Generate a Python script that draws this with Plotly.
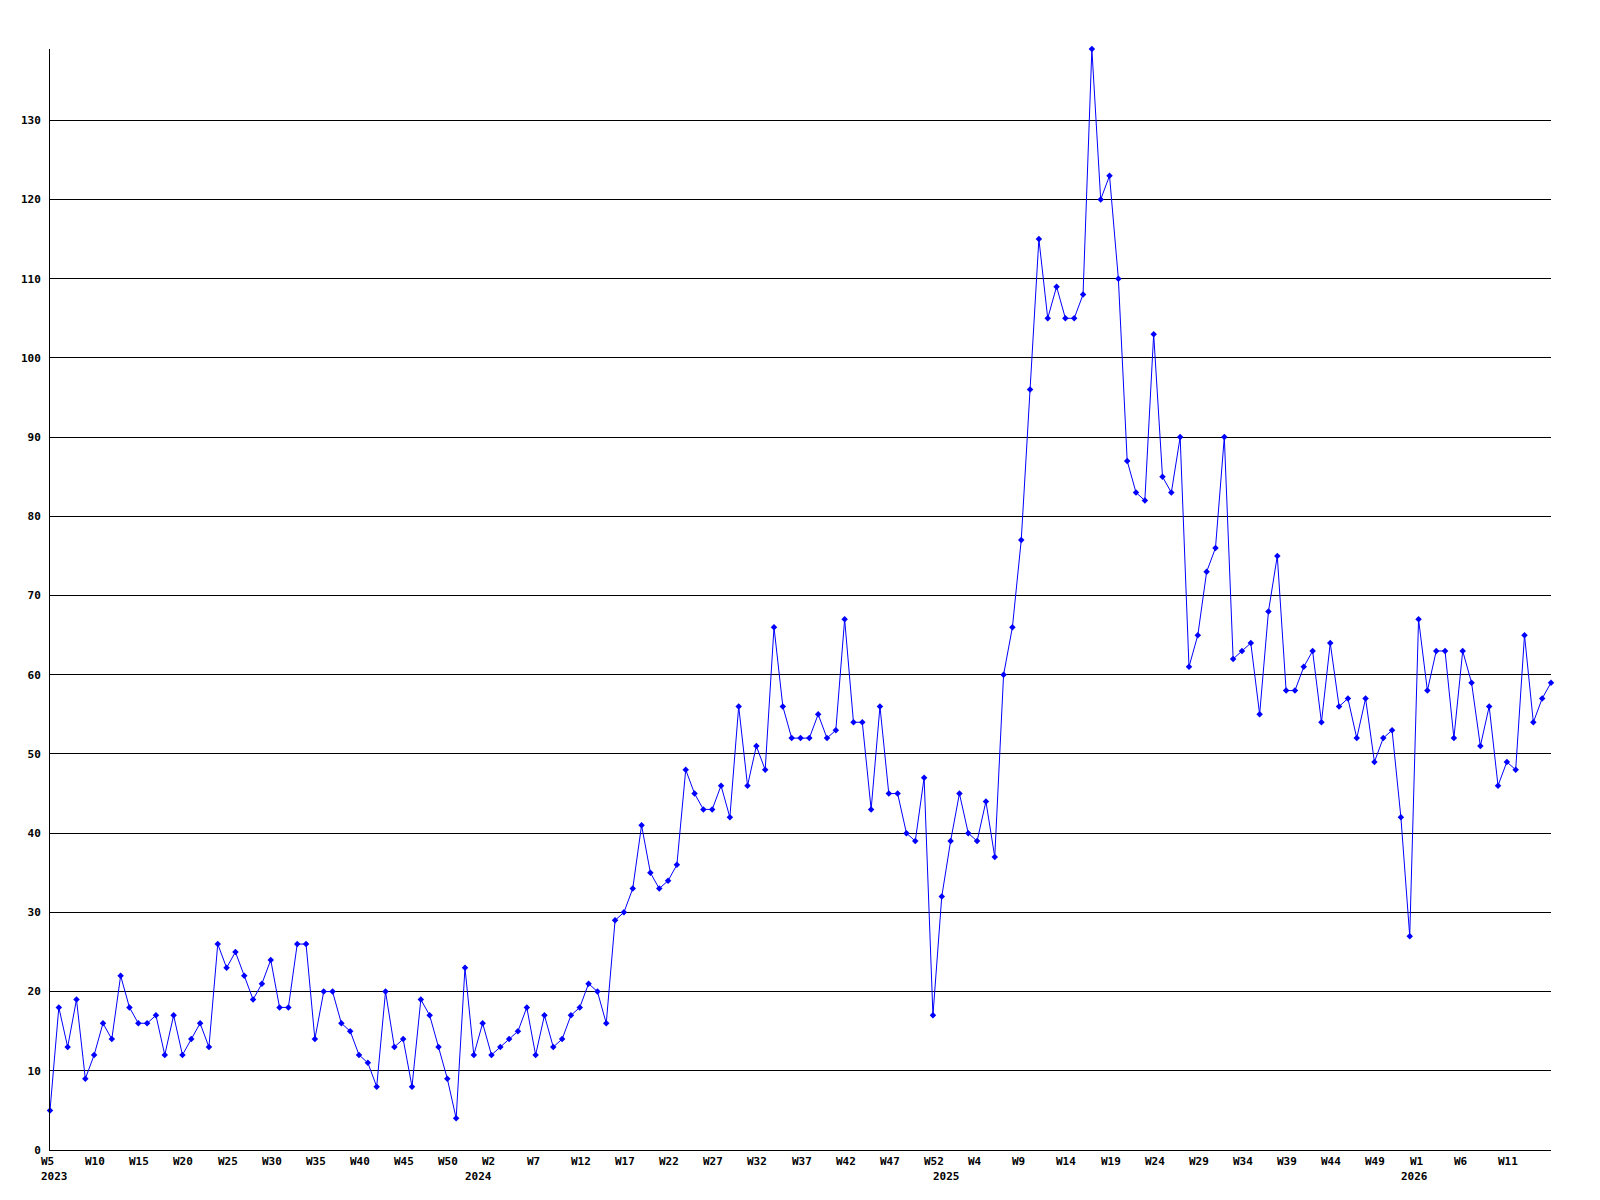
import plotly.graph_objects as go

# Weekly values, first point = 2023 W5
values = [
    5, 18, 13, 19, 9, 12, 16, 14, 22, 18,
    16, 16, 17, 12, 17, 12, 14, 16, 13, 26,
    23, 25, 22, 19, 21, 24, 18, 18, 26, 26,
    14, 20, 20, 16, 15, 12, 11, 8, 20, 13,
    14, 8, 19, 17, 13, 9, 4, 23, 12, 16,
    12, 13, 14, 15, 18, 12, 17, 13, 14, 17,
    18, 21, 20, 16, 29, 30, 33, 41, 35, 33,
    34, 36, 48, 45, 43, 43, 46, 42, 56, 46,
    51, 48, 66, 56, 52, 52, 52, 55, 52, 53,
    67, 54, 54, 43, 56, 45, 45, 40, 39, 47,
    17, 32, 39, 45, 40, 39, 44, 37, 60, 66,
    77, 96, 115, 105, 109, 105, 105, 108, 139, 120,
    123, 110, 87, 83, 82, 103, 85, 83, 90, 61,
    65, 73, 76, 90, 62, 63, 64, 55, 68, 75,
    58, 58, 61, 63, 54, 64, 56, 57, 52, 57,
    49, 52, 53, 42, 27, 67, 58, 63, 63, 52,
    63, 59, 51, 56, 46, 49, 48, 65, 54, 57,
    59,
]

# Week tick labels, one every 5 points starting at the first point
week_labels = [
    "W5", "W10", "W15", "W20", "W25", "W30", "W35", "W40", "W45", "W50",
    "W2", "W7", "W12", "W17", "W22", "W27", "W32", "W37", "W42", "W47",
    "W52", "W4", "W9", "W14", "W19", "W24", "W29", "W34", "W39", "W44",
    "W49", "W1", "W6", "W11",
]
week_label_step = 5

# Year labels and the point index where each year starts
year_labels = ["2023", "2024", "2025", "2026"]
year_label_points = [0, 48, 101, 154]

y_ticks = list(range(0, 140, 10))

FONT = dict(family="DejaVu Sans Mono", size=11, color="black", weight="bold")

x = list(range(len(values)))

fig = go.Figure()
fig.add_trace(go.Scatter(
    x=x, y=values, mode="lines+markers",
    line=dict(color="#0000ff", width=1),
    marker=dict(symbol="diamond", size=5, color="#0000ff"),
    cliponaxis=False, showlegend=False,
))

annotations = []
for i, lab in enumerate(week_labels):
    annotations.append(dict(
        x=i * week_label_step, y=0, xref="x", yref="paper",
        text=lab, showarrow=False, xanchor="left", yanchor="top",
        xshift=-11, yshift=-3, font=FONT,
    ))
for p, lab in zip(year_label_points, year_labels):
    annotations.append(dict(
        x=p, y=0, xref="x", yref="paper",
        text=lab, showarrow=False, xanchor="left", yanchor="top",
        xshift=-11, yshift=-18, font=FONT,
    ))

# page body has an 8px margin; the figure is sized so the plot area lands
# at the same pixels as the reference
fig.update_layout(
    width=1584, height=1184,
    margin=dict(l=42, r=41, t=41, b=42),
    paper_bgcolor="white", plot_bgcolor="white",
    annotations=annotations,
    xaxis=dict(
        range=[0, len(values) - 1], showgrid=False, zeroline=False,
        showline=True, linecolor="black", linewidth=1,
        showticklabels=False, ticks="",
    ),
    yaxis=dict(
        range=[0, max(values)], tickvals=y_ticks,
        showgrid=True, gridcolor="black", gridwidth=1,
        zeroline=False, showline=True, linecolor="black", linewidth=1,
        ticks="", tickfont=FONT, ticklabelstandoff=6,
    ),
)

fig.write_html("out.html")
